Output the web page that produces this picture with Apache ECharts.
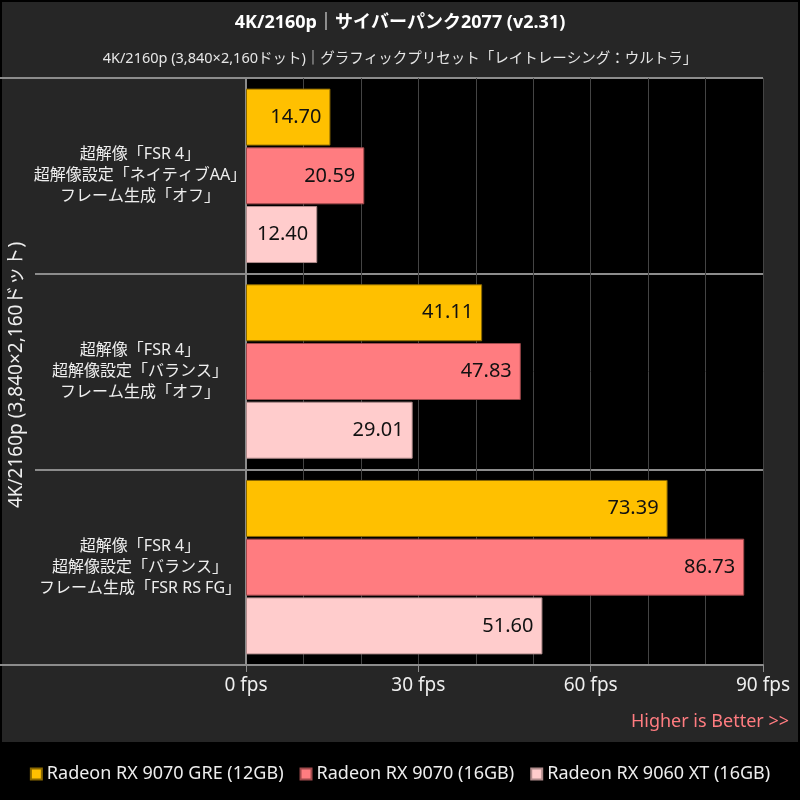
<!DOCTYPE html>
<html>
<head>
<meta charset="utf-8">
<script src="https://cdn.jsdelivr.net/npm/echarts@6/dist/echarts.min.js"></script>
<style>
html, body { margin: 0; padding: 0; background: #000; }
#main { width: 800px; height: 800px; }
</style>
</head>
<body>
<div id="main"></div>
<script>
var categories = [
	'超解像「FSR 4」\n超解像設定「ネイティブAA」\nフレーム生成「オフ」',
	'超解像「FSR 4」\n超解像設定「バランス」\nフレーム生成「オフ」',
	'超解像「FSR 4」\n超解像設定「バランス」\nフレーム生成「FSR RS FG」'
];
var seriesNames = ['Radeon RX 9070 GRE (12GB)', 'Radeon RX 9070 (16GB)', 'Radeon RX 9060 XT (16GB)'];
var gre = [14.70, 41.11, 73.39];
var rx9070 = [20.59, 47.83, 86.73];
var xt9060 = [12.40, 29.01, 51.60];
var colors = ['#ffc000', '#ff7c80', '#ffcccc'];
var borders = ['#8a6800', '#a04a4c', '#b08c8c'];

var font = '"Noto Sans", "Noto Sans CJK JP", sans-serif';
var myChart = echarts.init(document.getElementById('main'));

function bar(i, data) {
	return {
		name: seriesNames[i],
		type: 'bar',
		data: data,
		barWidth: 57,
		barGap: '3%',
		itemStyle: { color: colors[i], borderColor: borders[i], borderWidth: 1 },
		label: {
			show: true,
			position: 'insideRight',
			distance: 9,
			color: '#111',
			fontSize: 20,
			fontFamily: font,
			formatter: function (p) { return p.value.toFixed(2); }
		}
	};
}

myChart.setOption({
	backgroundColor: '#000',
	textStyle: { fontFamily: font },
	graphic: [
		{ type: 'rect', z: -10, shape: { x: 2, y: 2, width: 796, height: 740 }, style: { fill: '#262626' } },
		{ type: 'line', z: 5, shape: { x1: 0, y1: 78, x2: 246, y2: 78 }, style: { stroke: '#8c8c8c', lineWidth: 2 } },
		{ type: 'line', z: 5, shape: { x1: 0, y1: 665, x2: 246, y2: 665 }, style: { stroke: '#8c8c8c', lineWidth: 2 } },
		{
			type: 'text', z: 5, x: 17, y: 375, rotation: Math.PI / 2,
			style: { text: '4K/2160p (3,840×2,160ドット)', fill: '#eeeeee', font: '19px ' + font, align: 'center', verticalAlign: 'middle' }
		},
		{
			type: 'text', z: 5, x: 789, y: 722,
			style: { text: 'Higher is Better >>', fill: '#ff7c80', font: '18px ' + font, align: 'right', verticalAlign: 'middle' }
		}
	],
	title: [
		{
			text: '4K/2160p｜サイバーパンク2077 (v2.31)',
			left: 'center', top: 9,
			textStyle: { color: '#ffffff', fontSize: 18, fontWeight: 'bold', fontFamily: font }
		},
		{
			text: '4K/2160p (3,840×2,160ドット)｜グラフィックプリセット「レイトレーシング：ウルトラ」',
			left: 'center', top: 47,
			textStyle: { color: '#e6e6e6', fontSize: 14.5, fontWeight: 'normal', fontFamily: font }
		}
	],
	legend: {
		data: seriesNames,
		left: 'center',
		top: 760,
		icon: 'rect',
		itemWidth: 11,
		itemHeight: 11,
		itemGap: 16,
		textStyle: { color: '#eeeeee', fontSize: 18, fontFamily: font }
	},
	grid: {
		left: 246, right: 37, top: 78, bottom: 135,
		show: true, backgroundColor: '#000', borderWidth: 0
	},
	xAxis: {
		type: 'value',
		min: 0, max: 90, interval: 30,
		axisLine: { show: true, lineStyle: { color: '#8c8c8c', width: 2 } },
		axisTick: { show: true, length: 7, lineStyle: { color: '#8c8c8c' } },
		axisLabel: { color: '#eeeeee', fontSize: 19, margin: 11, formatter: '{value} fps' },
		splitLine: { show: true, lineStyle: { color: '#444', width: 1 } },
		minorTick: { show: false, splitNumber: 3 },
		minorSplitLine: { show: true, lineStyle: { color: '#444', width: 1 } }
	},
	yAxis: {
		type: 'category',
		inverse: true,
		data: categories,
		axisLine: { show: true, lineStyle: { color: '#8c8c8c', width: 2 } },
		axisTick: { show: true, length: 211, lineStyle: { color: '#8c8c8c', width: 2 } },
		axisLabel: { color: '#eeeeee', fontSize: 16, lineHeight: 21, margin: 106, align: 'center' },
		splitLine: { show: true, lineStyle: { color: '#8c8c8c', width: 2 } }
	},
	series: [bar(0, gre), bar(1, rx9070), bar(2, xt9060)]
});
</script>
</body>
</html>
